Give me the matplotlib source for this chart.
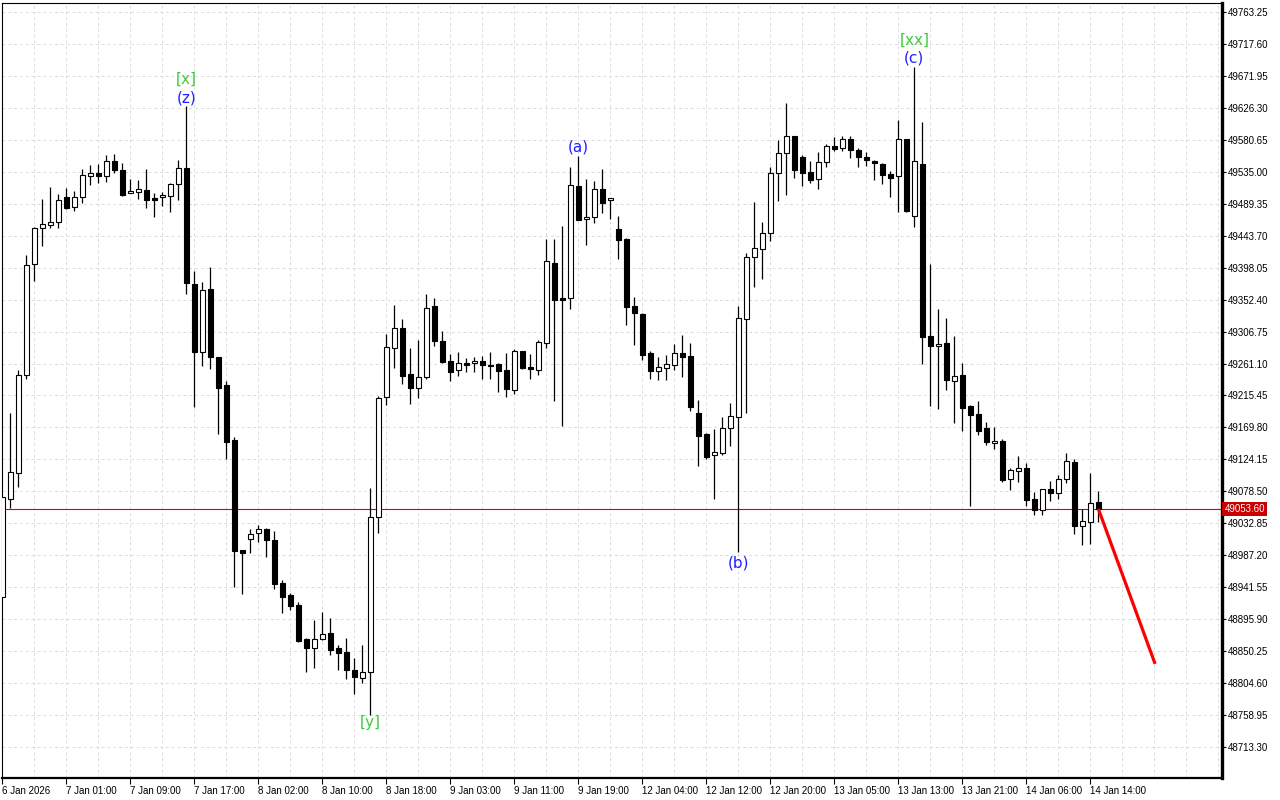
import numpy as np
import matplotlib
matplotlib.use("Agg")
import matplotlib.pyplot as plt

# hourly candles (price units)
opens = [48927.6, 49067.2, 49104.3, 49244.3, 49402.8, 49454.3, 49458.5, 49462.8, 49498.6, 49485.1,
         49498.6, 49528.6, 49532.8, 49528.6, 49550.0, 49537.1, 49504.3, 49505.7, 49508.6, 49497.1,
         49498.6, 49500.8, 49517.1, 49540.0, 49374.3, 49277.1, 49367.1, 49270.0, 49230.0, 49151.9,
         48994.3, 49010.0, 49018.6, 49024.7, 49009.0, 48947.6, 48930.4, 48915.7, 48867.6, 48855.2,
         48868.0, 48876.2, 48854.7, 48849.0, 48823.3, 48812.3, 48820.0, 49041.4, 49212.9, 49282.9,
         49311.4, 49245.7, 49225.7, 49242.3, 49343.3, 49293.3, 49264.7, 49251.4, 49261.9, 49261.4,
         49265.1, 49259.0, 49260.4, 49251.9, 49222.9, 49279.0, 49256.1, 49251.4, 49290.9, 49404.3,
         49354.3, 49354.3, 49514.7, 49467.1, 49470.0, 49510.0, 49494.3, 49452.8, 49439.0, 49342.9,
         49331.9, 49276.1, 49250.0, 49255.1, 49258.6, 49276.1, 49271.9, 49190.4, 49160.4, 49130.0,
         49133.7, 49168.6, 49185.1, 49324.3, 49413.7, 49424.3, 49447.1, 49532.8, 49561.4, 49585.7,
         49555.7, 49534.3, 49524.3, 49548.6, 49571.4, 49568.6, 49581.4, 49566.1, 49556.1, 49550.4,
         49546.1, 49531.4, 49528.6, 49581.4, 49471.4, 49545.7, 49300.4, 49285.7, 49290.0, 49235.7,
         49244.3, 49200.4, 49188.6, 49168.6, 49147.1, 49150.0, 49095.7, 49107.1, 49111.4, 49067.1,
         49052.3, 49081.9, 49076.6, 49095.7, 49120.0, 49029.4, 49035.2, 49062.9]
highs = [49070.4, 49190.0, 49251.9, 49416.1, 49455.7, 49495.7, 49513.3, 49503.3, 49511.4, 49507.6,
         49538.6, 49544.7, 49546.1, 49559.0, 49560.4, 49547.1, 49524.3, 49523.1, 49538.6, 49504.3,
         49506.6, 49519.4, 49551.8, 49629.0, 49392.8, 49377.1, 49398.6, 49270.0, 49236.1, 49155.7,
         48994.3, 49024.7, 49030.4, 49025.7, 49021.9, 48951.9, 48932.9, 48920.4, 48869.0, 48894.7,
         48906.2, 48897.6, 48858.6, 48869.0, 48840.5, 48858.6, 49082.9, 49214.7, 49302.8, 49344.7,
         49324.7, 49282.9, 49294.7, 49360.0, 49354.3, 49307.6, 49274.7, 49277.6, 49269.0, 49270.4,
         49271.8, 49277.6, 49261.9, 49276.1, 49281.4, 49279.0, 49274.7, 49294.7, 49439.0, 49439.0,
         49457.6, 49541.4, 49557.5, 49524.3, 49521.4, 49538.6, 49497.1, 49471.4, 49440.4, 49356.1,
         49333.3, 49279.0, 49270.4, 49273.3, 49289.0, 49301.9, 49290.4, 49208.6, 49161.4, 49168.0,
         49184.7, 49204.7, 49343.7, 49419.4, 49491.4, 49462.8, 49542.3, 49580.4, 49633.3, 49585.7,
         49558.6, 49550.0, 49562.8, 49574.3, 49584.3, 49585.7, 49585.7, 49568.6, 49562.8, 49551.8,
         49547.1, 49535.7, 49608.5, 49581.4, 49684.3, 49606.1, 49403.3, 49338.6, 49325.7, 49300.0,
         49262.3, 49201.4, 49207.6, 49177.1, 49170.4, 49153.3, 49111.9, 49128.6, 49118.6, 49077.1,
         49081.4, 49092.9, 49101.4, 49132.8, 49124.3, 49052.9, 49104.3, 49078.6]
lows = [48927.6, 49055.1, 49085.2, 49239.4, 49379.4, 49429.0, 49455.1, 49455.1, 49481.8, 49479.0,
        49490.0, 49516.6, 49518.6, 49520.8, 49532.8, 49500.4, 49504.3, 49496.1, 49483.7, 49470.8,
        49486.6, 49478.0, 49494.7, 49360.0, 49199.4, 49258.0, 49253.7, 49160.4, 49124.7, 48942.3,
        48932.3, 48990.9, 49006.6, 48985.2, 48939.4, 48905.2, 48909.0, 48863.3, 48820.9, 48826.2,
        48866.2, 48845.2, 48823.7, 48810.0, 48789.4, 48804.3, 48759.0, 49018.6, 49201.9, 49254.3,
        49231.4, 49202.8, 49211.4, 49239.4, 49285.7, 49261.4, 49236.6, 49243.7, 49249.4, 49249.0,
        49239.0, 49239.4, 49220.4, 49213.7, 49218.0, 49253.3, 49239.4, 49245.1, 49283.3, 49208.0,
        49171.8, 49339.4, 49466.6, 49430.8, 49461.4, 49476.6, 49468.0, 49410.8, 49316.6, 49288.0,
        49266.6, 49239.4, 49238.0, 49238.0, 49251.9, 49242.3, 49193.7, 49115.1, 49125.1, 49068.0,
        49130.0, 49143.7, 48992.0, 49190.9, 49370.8, 49382.3, 49436.6, 49493.7, 49502.3, 49526.6,
        49515.1, 49519.4, 49510.9, 49542.3, 49564.3, 49564.3, 49554.3, 49541.4, 49543.7, 49523.7,
        49518.0, 49499.4, 49477.1, 49478.0, 49456.6, 49260.9, 49200.9, 49196.6, 49222.9, 49176.6,
        49165.1, 49057.6, 49159.0, 49144.7, 49139.4, 49092.3, 49080.8, 49092.3, 49057.6, 49045.1,
        49045.1, 49065.3, 49068.0, 49090.0, 49018.0, 49002.0, 49003.4, 49035.2]
closes = [49070.4, 49105.7, 49244.3, 49401.4, 49454.3, 49460.0, 49462.8, 49494.3, 49483.7, 49498.6,
          49530.0, 49532.8, 49528.6, 49550.0, 49537.1, 49502.3, 49507.6, 49510.0, 49495.1, 49495.1,
          49501.4, 49517.1, 49540.0, 49376.6, 49277.1, 49365.7, 49270.0, 49226.6, 49149.4, 48993.7,
          48990.0, 49017.1, 49024.7, 49009.4, 48946.6, 48928.0, 48915.2, 48864.7, 48854.7, 48868.0,
          48875.1, 48852.3, 48848.0, 48823.7, 48813.8, 48820.0, 49042.3, 49211.4, 49284.3, 49311.4,
          49243.7, 49225.7, 49242.3, 49340.0, 49293.7, 49263.7, 49249.4, 49261.4, 49259.4, 49264.7,
          49259.4, 49257.6, 49250.9, 49224.3, 49279.0, 49255.1, 49253.7, 49291.9, 49407.6, 49352.3,
          49351.4, 49515.7, 49466.6, 49470.0, 49510.0, 49490.0, 49497.1, 49438.0, 49341.4, 49332.8,
          49273.7, 49250.0, 49255.7, 49260.0, 49276.1, 49270.9, 49199.4, 49158.0, 49128.0, 49134.7,
          49169.0, 49186.1, 49325.7, 49412.8, 49425.7, 49447.6, 49532.8, 49561.4, 49585.7, 49538.0,
          49533.7, 49523.7, 49548.6, 49571.4, 49568.0, 49581.4, 49565.7, 49555.7, 49551.4, 49547.1,
          49530.9, 49526.6, 49581.4, 49479.4, 49550.0, 49299.4, 49286.6, 49288.6, 49238.0, 49242.8,
          49198.0, 49187.1, 49165.1, 49149.4, 49150.0, 49094.6, 49109.0, 49111.4, 49066.6, 49052.3,
          49081.4, 49076.6, 49095.7, 49121.4, 49029.4, 49035.7, 49061.4, 49053.6]

time_tick_bars = [0, 8, 16, 24, 32, 40, 48, 56, 64, 72, 80, 88, 96, 104, 112, 120, 128, 136]
time_tick_labels = ["6 Jan 2026", "7 Jan 01:00", "7 Jan 09:00", "7 Jan 17:00", "8 Jan 02:00",
                    "8 Jan 10:00", "8 Jan 18:00", "9 Jan 03:00", "9 Jan 11:00", "9 Jan 19:00",
                    "12 Jan 04:00", "12 Jan 12:00", "12 Jan 20:00", "13 Jan 05:00", "13 Jan 13:00",
                    "13 Jan 21:00", "14 Jan 06:00", "14 Jan 14:00"]

price_tick_first = 48713.30
price_tick_step = 45.65
price_tick_count = 24
last_price = 49053.60

wave_bars = [23, 23, 46, 72, 92, 114, 114]
wave_prices = [49667.5, 49640.4, 48747.6, 49570.4, 48976.2, 49723.3, 49697.5]
wave_texts = ["[x]", "(z)", "[y]", "(a)", "(b)", "[xx]", "(c)"]
wave_colors = ["#3ccc3c", "#2020ff", "#3ccc3c", "#2020ff", "#2020ff", "#3ccc3c", "#2020ff"]

forecast_bars = [137, 144.1]
forecast_prices = [49053.6, 48832.0]

W, H = 1280, 800
fig = plt.figure(figsize=(W / 100, H / 100), dpi=100)
fig.patch.set_facecolor("white")
ax = fig.add_axes([2 / W, 22 / H, 1220 / W, 775 / H])
ax.set_facecolor("white")

ax.set_xlim(-0.04, 152.46)
ax.set_ylim(48669.0, 49776.1)

# grid
for gx in np.arange(0, 153, 4):
    ax.axvline(gx, color="#dcdcdc", lw=0.7, ls=(0, (3, 3)), zorder=0)
price_ticks = price_tick_first + price_tick_step * np.arange(price_tick_count)
for gy in price_ticks:
    ax.axhline(gy, color="#dcdcdc", lw=0.7, ls=(0, (3, 3)), zorder=0)

# candles
o = np.array(opens)
h = np.array(highs)
l = np.array(lows)
c = np.array(closes)
idx = np.arange(len(o))
ax.vlines(idx, l, h, color="black", lw=0.9, zorder=2)
up = c >= o
body_lo = np.minimum(o, c)
body_h = np.maximum(np.abs(c - o), 1.2)
ax.bar(idx[up], body_h[up], bottom=body_lo[up], width=0.6, color="white",
       edgecolor="black", linewidth=0.8, zorder=3)
ax.bar(idx[~up], body_h[~up], bottom=body_lo[~up], width=0.6, color="black",
       edgecolor="black", linewidth=0.8, zorder=3)

# current price line
ax.axhline(last_price, color="#e00000", lw=0.8, zorder=1)

# forecast line
ax.plot(forecast_bars, forecast_prices, color="#ff0000", lw=2.3, zorder=4,
        solid_capstyle="butt")

# wave labels
for b, p, t, col in zip(wave_bars, wave_prices, wave_texts, wave_colors):
    ax.text(b, p, t, color=col, fontsize=11, ha="center", va="center", zorder=5)

# axes styling
for s in ["top", "left"]:
    ax.spines[s].set_linewidth(0.8)
ax.spines["right"].set_linewidth(2.4)
ax.spines["bottom"].set_linewidth(1.6)

ax.yaxis.tick_right()
ax.set_yticks(price_ticks)
ax.set_yticklabels([f"{v:.2f}" for v in price_ticks])
ax.tick_params(axis="y", direction="out", length=3, width=0.8, labelsize=7, pad=1.5)

ax.set_xticks(time_tick_bars)
ax.set_xticklabels(time_tick_labels)
ax.tick_params(axis="x", direction="out", length=4, width=0.8, labelsize=7, pad=2)
for lab in ax.get_xticklabels():
    lab.set_horizontalalignment("left")
for lab in ax.get_xticklabels() + ax.get_yticklabels():
    lab.set_fontfamily("Liberation Sans")

ax.text(1.002, last_price, f"{last_price:.2f}", transform=ax.get_yaxis_transform(),
        ha="left", va="center", fontsize=7, color="white", family="Liberation Sans",
        bbox=dict(boxstyle="square,pad=0.2", fc="#c80000", ec="none"), clip_on=False, zorder=6)

fig.savefig("out.png", dpi=100)
